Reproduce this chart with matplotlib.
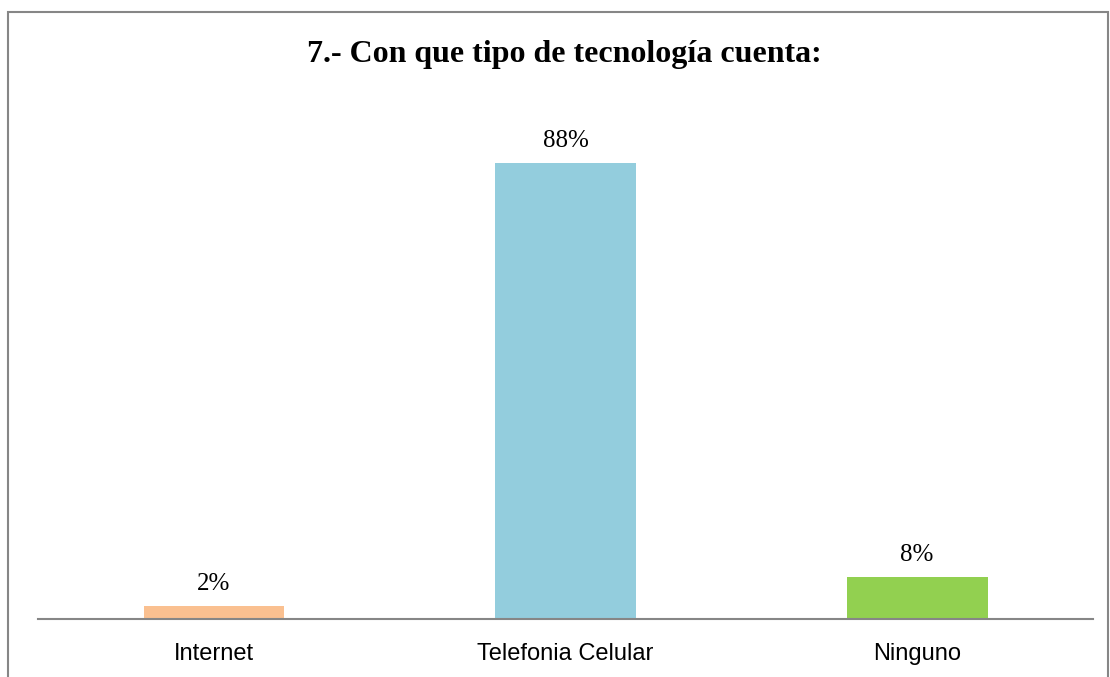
import matplotlib.pyplot as plt
from matplotlib.patches import Rectangle

categories = ["Internet", "Telefonia Celular", "Ninguno"]
values = [2.5, 88, 8.1]
value_labels = ["2%", "88%", "8%"]
colors = ["#FAC090", "#93CDDD", "#92D050"]

W, H = 1110, 677
fig = plt.figure(figsize=(W / 100, H / 100), dpi=100)

# axes placed in pixel terms to match the original layout
ax = fig.add_axes([38 / W, 1 - 619 / H, (1093 - 38) / W, (619 - 101) / H])
x = range(len(categories))
bars = ax.bar(x, values, width=0.4, color=colors, zorder=2)
ax.set_xlim(-0.5, len(categories) - 0.5)
ax.set_ylim(0, 100)

for b, lab in zip(bars, value_labels):
    ax.annotate(lab, (b.get_x() + b.get_width() / 2, b.get_height()),
                xytext=(0, 11.5), textcoords="offset points", ha="center", va="baseline",
                family="Liberation Serif", fontsize=18, color="black")

ax.set_xticks(list(x))
ax.set_xticklabels(categories, family="Liberation Sans", fontsize=17)
ax.tick_params(axis="x", length=0, pad=17.5)
ax.set_yticks([])
for s in ["left", "right", "top"]:
    ax.spines[s].set_visible(False)
ax.spines["bottom"].set_color("#868686")
ax.spines["bottom"].set_linewidth(1.5)

fig.text(564.5 / W, 1 - 62 / H, "7.- Con que tipo de tecnología cuenta:", ha="center", va="baseline",
         family="Liberation Serif", fontweight="bold", fontsize=23)

# outer chart border
fig.patches.append(Rectangle((8 / W, -0.05), (1108 - 8) / W, 1.05 - 12 / H,
                             transform=fig.transFigure, fill=False,
                             edgecolor="#868686", linewidth=1.5))

fig.savefig("out.png", dpi=100)
